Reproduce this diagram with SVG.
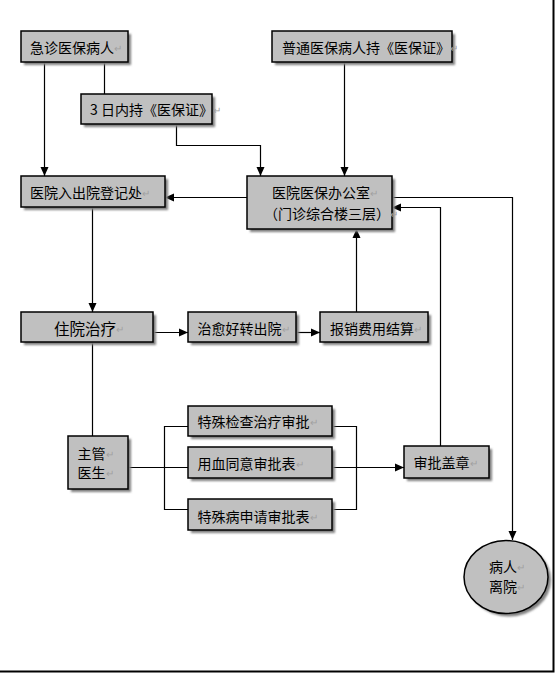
<svg xmlns="http://www.w3.org/2000/svg" width="555" height="673" viewBox="0 0 555 673">
<defs>
<marker id="ah" markerWidth="10" markerHeight="10" refX="9" refY="5" orient="auto" markerUnits="userSpaceOnUse">
<path d="M0,1 L9,5 L0,9 Z" fill="#000"/>
</marker>
<filter id="sh" x="-10%" y="-10%" width="130%" height="140%">
<feGaussianBlur stdDeviation="1"/>
</filter>
</defs>
<style>
.box{fill:#C0C0C0;stroke:#000;stroke-width:1.5}
.shd{fill:#808080;filter:url(#sh)}
.t{font-family:"Noto Sans CJK SC","Noto Sans",sans-serif;font-size:14px;fill:#000;dominant-baseline:central}
.r{fill:#A0A0A0;font-size:10px}
.c{fill:none;stroke:#000;stroke-width:1.2}
</style>
<rect width="555" height="673" fill="#fff"/>
<path d="M553.5,0 V671.5 H0" fill="none" stroke="#000" stroke-width="2"/>
<g id="connectors">
<path class="c" d="M44.5,62 V176" marker-end="url(#ah)"/>
<path class="c" d="M104.5,62 V94"/>
<path class="c" d="M176.5,124 V145.5 H260.5 V176" marker-end="url(#ah)"/>
<path class="c" d="M344.5,62 V176" marker-end="url(#ah)"/>
<path class="c" d="M247,197.5 H165" marker-end="url(#ah)"/>
<path class="c" d="M92.5,207 V312" marker-end="url(#ah)"/>
<path class="c" d="M153,332.5 H188" marker-end="url(#ah)"/>
<path class="c" d="M296,332.5 H320" marker-end="url(#ah)"/>
<path class="c" d="M356.5,312 V229" marker-end="url(#ah)"/>
<path class="c" d="M392,197.5 H512.5 V540" marker-end="url(#ah)"/>
<path class="c" d="M440.5,446 V207.5 H392" marker-end="url(#ah)"/>
<path class="c" d="M92.5,342 V436" stroke="#555"/>
<path class="c" d="M128,467.5 H188"/>
<path class="c" d="M188,426.5 H164.5 V509.5 H188"/>
<path class="c" d="M332,426.5 H356.5 V509.5 H332"/>
<path class="c" d="M332,467.5 H404" marker-end="url(#ah)"/>
</g>
<g id="n1">
<rect class="shd" x="24" y="34" width="107" height="31"/>
<rect class="box" x="21" y="31" width="107" height="31"/>
<text class="t" x="30" y="47">急诊医保病人<tspan class="r">↵</tspan></text>
</g>
<g id="n2">
<rect class="shd" x="84" y="97" width="131" height="30"/>
<rect class="box" x="81" y="94" width="131" height="30"/>
<text class="t" x="90" y="109">3 日内持《医保证》<tspan class="r">↵</tspan></text>
</g>
<g id="n3">
<rect class="shd" x="275" y="34" width="180" height="31"/>
<rect class="box" x="272" y="31" width="180" height="31"/>
<text class="t" x="282" y="47">普通医保病人持《医保证》<tspan class="r">↵</tspan></text>
</g>
<g id="n4">
<rect class="shd" x="24" y="179" width="144" height="31"/>
<rect class="box" x="21" y="176" width="144" height="31"/>
<text class="t" x="30" y="192">医院入出院登记处<tspan class="r">↵</tspan></text>
</g>
<g id="n5">
<rect class="shd" x="250" y="179" width="145" height="53"/>
<rect class="box" x="247" y="176" width="145" height="53"/>
<text class="t" x="272" y="192">医院医保办公室<tspan class="r">↵</tspan></text>
<text class="t" x="264" y="213">（门诊综合楼三层）<tspan class="r">↵</tspan></text>
</g>
<g id="n6">
<rect class="shd" x="24" y="315" width="132" height="30"/>
<rect class="box" x="21" y="312" width="132" height="30"/>
<text class="t" x="54" y="327.5" style="font-size:15.5px">住院治疗<tspan class="r">↵</tspan></text>
</g>
<g id="n7">
<rect class="shd" x="191" y="315" width="108" height="30"/>
<rect class="box" x="188" y="312" width="108" height="30"/>
<text class="t" x="197.5" y="327.5">治愈好转出院<tspan class="r">↵</tspan></text>
</g>
<g id="n8">
<rect class="shd" x="323" y="315" width="108" height="30"/>
<rect class="box" x="320" y="312" width="108" height="30"/>
<text class="t" x="330" y="327.5">报销费用结算<tspan class="r">↵</tspan></text>
</g>
<g id="n9">
<rect class="shd" x="71" y="439" width="60" height="53"/>
<rect class="box" x="68" y="436" width="60" height="53"/>
<text class="t" x="77.5" y="452.5">主管<tspan class="r">↵</tspan></text>
<text class="t" x="77.5" y="472">医生<tspan class="r">↵</tspan></text>
</g>
<g id="n10">
<rect class="shd" x="191" y="409" width="144" height="30"/>
<rect class="box" x="188" y="406" width="144" height="30"/>
<text class="t" x="197.5" y="421">特殊检查治疗审批<tspan class="r">↵</tspan></text>
</g>
<g id="n11">
<rect class="shd" x="191" y="450" width="144" height="31"/>
<rect class="box" x="188" y="447" width="144" height="31"/>
<text class="t" x="197.5" y="463">用血同意审批表<tspan class="r">↵</tspan></text>
</g>
<g id="n12">
<rect class="shd" x="191" y="502" width="144" height="31"/>
<rect class="box" x="188" y="499" width="144" height="31"/>
<text class="t" x="197.5" y="515.5">特殊病申请审批表<tspan class="r">↵</tspan></text>
</g>
<g id="n13">
<rect class="shd" x="407" y="449" width="85" height="32"/>
<rect class="box" x="404" y="446" width="85" height="32"/>
<text class="t" x="413.5" y="462">审批盖章<tspan class="r">↵</tspan></text>
</g>
<g id="n14">
<ellipse class="shd" cx="509" cy="580" rx="42" ry="36.5"/>
<ellipse class="box" cx="506" cy="577" rx="42" ry="36.5"/>
<text class="t" x="489" y="566">病人<tspan class="r">↵</tspan></text>
<text class="t" x="489" y="586">离院<tspan class="r">↵</tspan></text>
</g>
</svg>
